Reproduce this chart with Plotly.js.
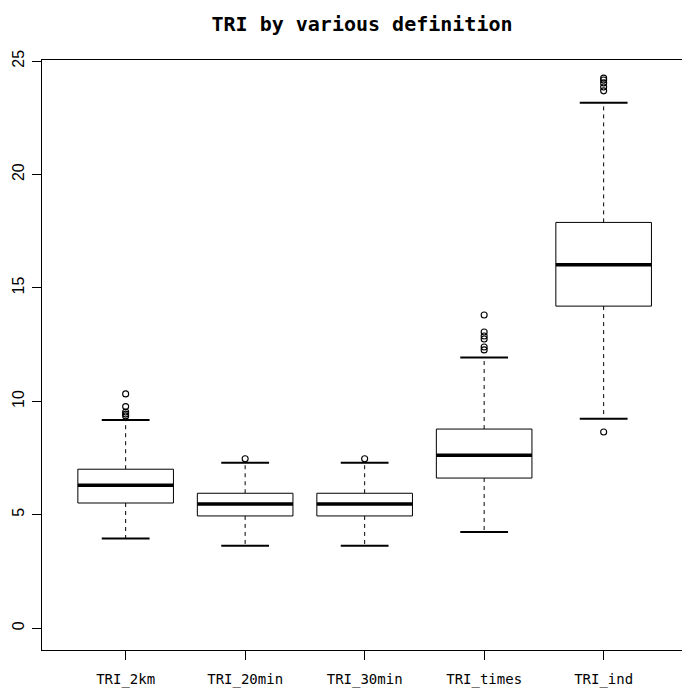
<!DOCTYPE html>
<html>
<head>
<meta charset="utf-8">
<script src="https://cdn.plot.ly/plotly-3.0.1.min.js"></script>
<style>html,body{margin:0;padding:0;background:#fff;}#chart{width:682px;height:689px;}</style>
</head>
<body>
<div id="chart"></div>
<script>
// ---- data ----
var categories   = ['TRI_2km', 'TRI_20min', 'TRI_30min', 'TRI_times', 'TRI_ind'];
var lowerWhisker = [3.95, 3.64, 3.64, 4.24, 9.24];
var q1Values     = [5.52, 4.95, 4.95, 6.62, 14.20];
var medianValues = [6.30, 5.48, 5.48, 7.62, 16.02];
var q3Values     = [7.01, 5.95, 5.95, 8.78, 17.89];
var upperWhisker = [9.18, 7.30, 7.30, 11.93, 23.16];
var outliers2km   = [10.33, 9.77, 9.53, 9.44, 9.36];
var outliers20min = [7.47];
var outliers30min = [7.47];
var outliersTimes = [13.81, 13.06, 12.88, 12.75, 12.40, 12.27];
var outliersInd   = [24.25, 24.17, 24.04, 23.86, 23.69, 8.65];
var outlierLists  = [outliers2km, outliers20min, outliers30min, outliersTimes, outliersInd];
var yTickValues   = [0, 5, 10, 15, 20, 25];

// ---- build traces from the data ----
var halfBox = 0.4, halfCap = 0.2;
var boxX = [], boxY = [], medX = [], medY = [], whX = [], whY = [], capX = [], capY = [], outX = [], outY = [];
categories.forEach(function (c, i) {
  var p = i + 1;
  boxX.push(p - halfBox, p + halfBox, p + halfBox, p - halfBox, p - halfBox, null);
  boxY.push(q1Values[i], q1Values[i], q3Values[i], q3Values[i], q1Values[i], null);
  medX.push(p - halfBox, p + halfBox, null);
  medY.push(medianValues[i], medianValues[i], null);
  whX.push(p, p, null, p, p, null);
  whY.push(q1Values[i], lowerWhisker[i], null, q3Values[i], upperWhisker[i], null);
  capX.push(p - halfCap, p + halfCap, null, p - halfCap, p + halfCap, null);
  capY.push(lowerWhisker[i], lowerWhisker[i], null, upperWhisker[i], upperWhisker[i], null);
  outlierLists[i].forEach(function (v) { outX.push(p); outY.push(v); });
});

var black = '#000000';
var traces = [
  {x: whX, y: whY, mode: 'lines', line: {color: black, width: 1, dash: '4px,4px'}, hoverinfo: 'skip'},
  {x: capX, y: capY, mode: 'lines', line: {color: black, width: 2}, hoverinfo: 'skip'},
  {x: boxX, y: boxY, mode: 'lines', fill: 'toself', fillcolor: '#ffffff', line: {color: black, width: 1}, hoverinfo: 'skip'},
  {x: medX, y: medY, mode: 'lines', line: {color: black, width: 3.5}, hoverinfo: 'skip'},
  {x: outX, y: outY, mode: 'markers', marker: {symbol: 'circle-open', size: 6, color: black, line: {width: 1.1, color: black}}}
];

var layout = {
  width: 682, height: 689,
  margin: {l: 42, r: 0, t: 60, b: 39},
  paper_bgcolor: '#ffffff', plot_bgcolor: '#ffffff',
  showlegend: false,
  title: {
    text: 'TRI by various definition',
    font: {family: 'DejaVu Sans Mono', size: 20, color: black, weight: 'bold'},
    xref: 'paper', x: 0.5, xanchor: 'center',
    yref: 'container', y: 1 - 24 / 689, yanchor: 'middle'
  },
  xaxis: {
    range: [0.3, 0.3 + 640 / 119.5],
    tickmode: 'array', tickvals: [1, 2, 3, 4, 5], ticktext: categories,
    ticks: 'outside', ticklen: 9, tickwidth: 1, tickcolor: black,
    ticklabelstandoff: 7,
    showline: true, mirror: true, linecolor: black, linewidth: 1,
    showgrid: false, zeroline: false,
    tickfont: {family: 'DejaVu Sans Mono', size: 14, color: black}
  },
  yaxis: {
    range: [-0.96, 25.05],
    tickmode: 'array', tickvals: yTickValues,
    tickangle: -90,
    ticks: 'outside', ticklen: 9, tickwidth: 1, tickcolor: black,
    ticklabelstandoff: 2,
    showline: true, linecolor: black, linewidth: 1,
    showgrid: false, zeroline: false,
    tickfont: {family: 'Liberation Sans', size: 16, color: black}
  }
};

Plotly.newPlot('chart', traces, layout, {displayModeBar: false, staticPlot: true});
</script>
</body>
</html>
